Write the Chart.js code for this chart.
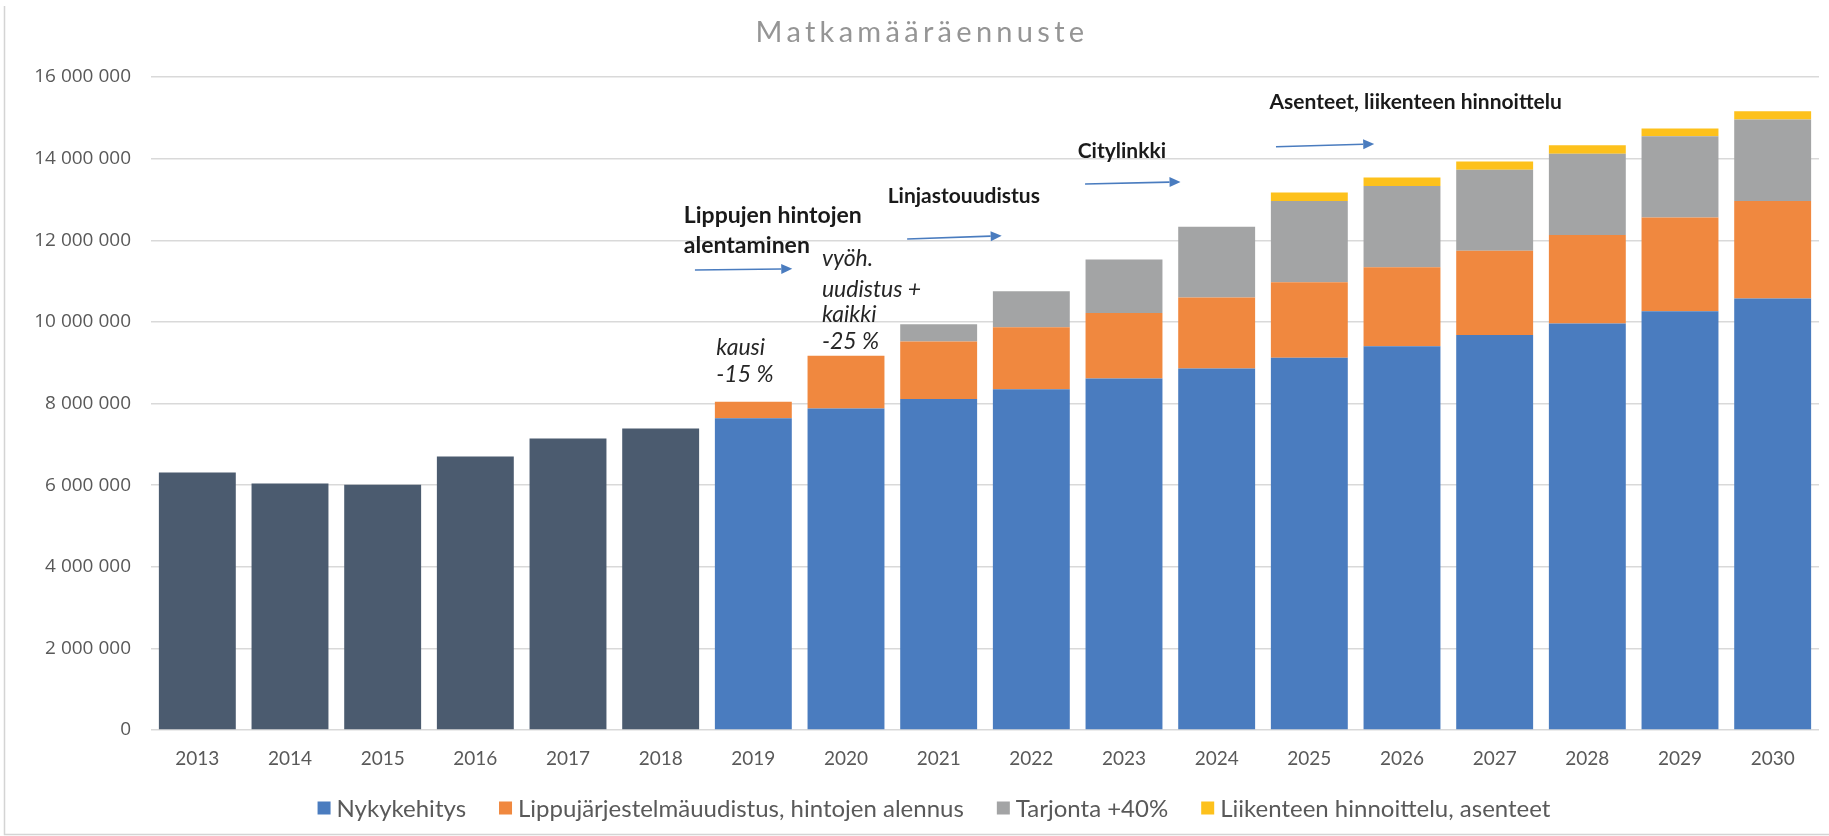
<!DOCTYPE html>
<html>
<head>
<meta charset="utf-8">
<script src="https://cdn.jsdelivr.net/npm/chart.js@4.4.1/dist/chart.umd.min.js"></script>
<style>
  html, body { margin: 0; padding: 0; background: #fff; }
  #wrap { width: 1829px; height: 836px; }
</style>
</head>
<body>
<div id="wrap"><canvas id="c-matkat" width="1829" height="836"></canvas></div>
<script>
const years = ["2013", "2014", "2015", "2016", "2017", "2018", "2019", "2020", "2021",
  "2022", "2023", "2024", "2025", "2026", "2027", "2028", "2029", "2030"];

// toteutuneet matkat (ei legendassa)
const toteutunut = [6310000, 6040000, 6010000, 6700000, 7140000, 7390000,
  null, null, null, null, null, null, null, null, null, null, null, null];
const nykykehitys = [null, null, null, null, null, null,
  7640000, 7880000, 8110000, 8350000, 8610000, 8860000, 9120000, 9400000, 9680000, 9960000, 10260000, 10570000];
const lippuuudistus = [null, null, null, null, null, null,
  400000, 1290000, 1410000, 1520000, 1610000, 1740000, 1850000, 1940000, 2060000, 2170000, 2300000, 2390000];
const tarjonta = [null, null, null, null, null, null, null, null,
  420000, 880000, 1310000, 1730000, 1990000, 1990000, 1990000, 1990000, 1990000, 2000000];
const hinnoittelu = [null, null, null, null, null, null, null, null, null, null, null, null,
  210000, 210000, 200000, 210000, 190000, 200000];

const seriesLabels = ["Nykykehitys", "Lippujärjestelmäuudistus, hintojen alennus", "Tarjonta +40%", "Liikenteen hinnoittelu, asenteet"];
const yTicks = [0, 2000000, 4000000, 6000000, 8000000, 10000000, 12000000, 14000000, 16000000];

// tekstit kaavion päällä: x = luokan indeksi (vasen reuna), y = arvo
const notes = [
  { text: "Lippujen hintojen", x: 5.25, y: 12600000, style: "bold", size: 23 },
  { text: "alentaminen", x: 5.25, y: 11880000, style: "bold", size: 23 },
  { text: "vyöh.", x: 6.74, y: 11560000, style: "italic" },
  { text: "uudistus +", x: 6.74, y: 10800000, style: "italic" },
  { text: "kaikki", x: 6.74, y: 10170000, style: "italic" },
  { text: "-25 %", x: 6.74, y: 9510000, style: "italic" },
  { text: "kausi", x: 5.60, y: 9380000, style: "italic" },
  { text: "-15 %", x: 5.60, y: 8720000, style: "italic" },
  { text: "Linjastouudistus", x: 7.45, y: 13090000, style: "bold" },
  { text: "Citylinkki", x: 9.50, y: 14190000, style: "bold" },
  { text: "Asenteet, liikenteen hinnoittelu", x: 11.57, y: 15390000, style: "bold" }
];
const arrows = [
  { x0: 5.37, y0: 11270000, x1: 6.42, y1: 11300000 },
  { x0: 7.66, y0: 12030000, x1: 8.68, y1: 12110000 },
  { x0: 9.58, y0: 13380000, x1: 10.61, y1: 13430000 },
  { x0: 11.64, y0: 14290000, x1: 12.70, y1: 14360000 }
];

const colors = {
  history: "#4b5b6f",
  blue: "#4a7cbf",
  orange: "#f0883f",
  grey: "#a3a4a5",
  yellow: "#fdc11c",
  text: "#595959",
  grid: "#d9d9d9"
};

function spaced(v) {
  return String(v).replace(/\B(?=(\d{3})+(?!\d))/g, " ");
}

const framePlugin = {
  id: "frame",
  beforeDraw(chart) {
    const ctx = chart.ctx;
    ctx.save();
    ctx.fillStyle = "#fff";
    ctx.fillRect(0, 0, chart.width, chart.height);
    ctx.strokeStyle = "#d4d4d4";
    ctx.lineWidth = 1.5;
    ctx.beginPath();
    ctx.moveTo(4.5, 6);
    ctx.lineTo(4.5, chart.height - 1.5);
    ctx.lineTo(chart.width, chart.height - 1.5);
    ctx.stroke();
    // otsikko
    ctx.fillStyle = "#959595";
    ctx.font = "29px Lato";
    if ("letterSpacing" in ctx) ctx.letterSpacing = "4.3px";
    ctx.textAlign = "center";
    ctx.textBaseline = "middle";
    ctx.fillText("Matkamääräennuste", 922, 33);
    ctx.restore();
  }
};

const notesPlugin = {
  id: "notes",
  afterDatasetsDraw(chart) {
    const ctx = chart.ctx;
    const xs = chart.scales.x;
    const ys = chart.scales.y;
    const step = xs.getPixelForValue(1) - xs.getPixelForValue(0);
    const px = (i) => xs.getPixelForValue(0) + i * step;
    ctx.save();
    ctx.textAlign = "left";
    ctx.textBaseline = "middle";
    notes.forEach((n) => {
      ctx.fillStyle = n.style === "bold" ? "#1a1a1a" : "#262626";
      ctx.font = n.style === "bold" ? `bold ${n.size || 21}px Lato` : "italic 23px Lato";
      ctx.fillText(n.text, px(n.x), ys.getPixelForValue(n.y));
    });
    ctx.strokeStyle = colors.blue;
    ctx.fillStyle = colors.blue;
    ctx.lineWidth = 1.6;
    arrows.forEach((a) => {
      const x0 = px(a.x0), y0 = ys.getPixelForValue(a.y0);
      const x1 = px(a.x1), y1 = ys.getPixelForValue(a.y1);
      const ang = Math.atan2(y1 - y0, x1 - x0);
      const head = 11;
      ctx.beginPath();
      ctx.moveTo(x0, y0);
      ctx.lineTo(x1 - head * Math.cos(ang), y1 - head * Math.sin(ang));
      ctx.stroke();
      ctx.beginPath();
      ctx.moveTo(x1, y1);
      ctx.lineTo(x1 - head * Math.cos(ang) + 5 * Math.sin(ang), y1 - head * Math.sin(ang) - 5 * Math.cos(ang));
      ctx.lineTo(x1 - head * Math.cos(ang) - 5 * Math.sin(ang), y1 - head * Math.sin(ang) + 5 * Math.cos(ang));
      ctx.closePath();
      ctx.fill();
    });
    ctx.restore();
  }
};

// oma legenda alareunaan, ilman toteutunutta sarjaa
const legendPlugin = {
  id: "bottomLegend",
  afterDraw(chart) {
    const ctx = chart.ctx;
    const items = chart.data.datasets.slice(1);
    const box = 13, gap = 6, spacing = 33;
    ctx.save();
    ctx.font = "24px Lato";
    ctx.textBaseline = "middle";
    ctx.textAlign = "left";
    const widths = items.map((d) => box + gap + ctx.measureText(d.label).width);
    const total = widths.reduce((s, w) => s + w, 0) + spacing * (items.length - 1);
    let x = 934 - total / 2;
    const y = 808;
    items.forEach((d, i) => {
      ctx.fillStyle = d.backgroundColor;
      ctx.fillRect(x, y - box / 2, box, box);
      ctx.fillStyle = colors.text;
      ctx.fillText(d.label, x + box + gap, y + 1);
      x += widths[i] + spacing;
    });
    ctx.restore();
  }
};

const common = { categoryPercentage: 0.83, barPercentage: 1.0, borderWidth: 0 };

new Chart(document.getElementById("c-matkat"), {
  type: "bar",
  data: {
    labels: years,
    datasets: [
      { label: "Toteutunut", data: toteutunut, backgroundColor: colors.history, ...common },
      { label: seriesLabels[0], data: nykykehitys, backgroundColor: colors.blue, ...common },
      { label: seriesLabels[1], data: lippuuudistus, backgroundColor: colors.orange, ...common },
      { label: seriesLabels[2], data: tarjonta, backgroundColor: colors.grey, ...common },
      { label: seriesLabels[3], data: hinnoittelu, backgroundColor: colors.yellow, ...common }
    ]
  },
  options: {
    responsive: false,
    animation: false,
    devicePixelRatio: 1,
    layout: { padding: { top: 77, right: 10, left: 0, bottom: 0 } },
    plugins: {
      legend: { display: false },
      tooltip: { enabled: false }
    },
    scales: {
      x: {
        stacked: true,
        grid: { display: false },
        border: { display: false },
        ticks: { color: colors.text, font: { family: "Lato", size: 19 }, padding: 9 },
        afterFit: (scale) => { scale.height = 106; }
      },
      y: {
        stacked: true,
        min: 0,
        max: 16000000,
        afterBuildTicks: (scale) => { scale.ticks = yTicks.map((v) => ({ value: v })); },
        grid: { color: colors.grid, lineWidth: 1.5, drawTicks: false },
        border: { display: false },
        ticks: {
          color: colors.text,
          font: { family: "Open Sans", size: 19 },
          padding: 20,
          callback: (v) => spaced(v)
        },
        afterFit: (scale) => { scale.width = 151; }
      }
    }
  },
  plugins: [framePlugin, notesPlugin, legendPlugin]
});
</script>
</body>
</html>
